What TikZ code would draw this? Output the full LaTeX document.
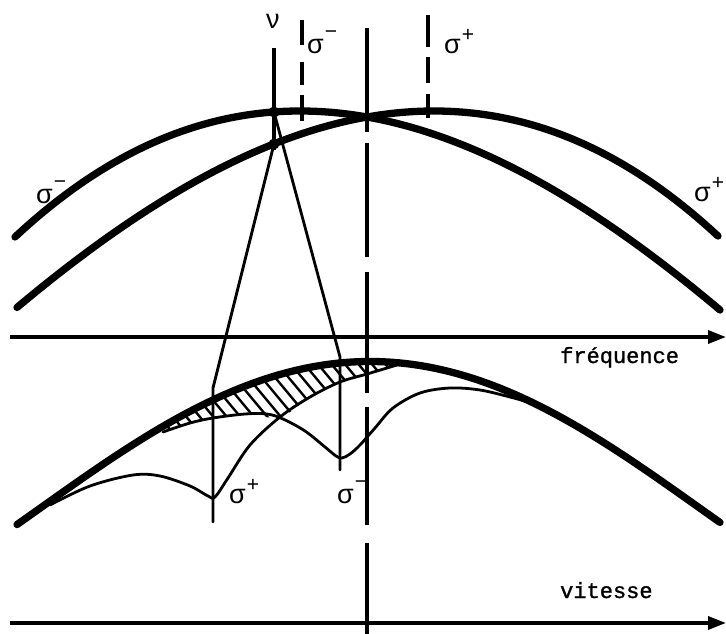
\documentclass[tikz,border=0pt]{standalone}
\usepackage{fontspec}
\setmainfont{Liberation Sans}
\newfontfamily\typew[FakeBold=1.2]{Liberation Mono}
\usetikzlibrary{arrows.meta}
\newcommand\sgp{σ\kern1pt\raisebox{12pt}{\fontsize{21}{21}\selectfont +}}
\newcommand\sgm{σ\kern1pt\raisebox{15pt}{\fontsize{21}{21}\selectfont −}}
\begin{document}
\begin{tikzpicture}[x=1pt,y=-1pt,
  declare function={
    topm(\t)=111+13.8*((\t-300)/100)*((\t-300)/100)-0.6*((\t-300)/100)*((\t-300)/100)*((\t-300)/100);
    topp(\t)=111+13.8*((434-\t)/100)*((434-\t)/100)-0.6*((434-\t)/100)*((434-\t)/100)*((434-\t)/100);
    env(\t)=361.5+16.2*((\t-370)/100)*((\t-370)/100)-0.25*((\t-370)/100)*((\t-370)/100)*((\t-370)/100)*((\t-370)/100);
  },
  thickcurve/.style={line width=7.3pt, line cap=round, line join=round},
  thincurve/.style={line width=2.8pt, line cap=round, line join=round},
  axisline/.style={line width=3.4pt, -{Triangle[length=18pt,width=13pt]}},
  dashseg/.style={line width=3.6pt},
  hatchline/.style={line width=2.4pt},
  lbl/.style={inner sep=0pt, anchor=base west, font=\fontsize{27}{27}\selectfont},
  word/.style={inner sep=0pt, anchor=base west, font=\typew\fontsize{22}{22}\selectfont}]
\useasboundingbox (0,0) rectangle (726,634);

% hatching between thick envelope and lower boundary
\begin{scope}
  \clip plot[domain=17:720,samples=80,smooth] (\x,{env(\x)}) -- (720,634) -- (17,634) -- cycle;
  \clip (150,300) -- (150,432) -- plot[smooth,tension=0.6] coordinates {(163,432) (190,423) (213,418) (245,414) (280,417) (310,397) (340,382) (367,374) (397,366)} -- (397,300) -- cycle;
  \foreach \i in {0,...,30} {\draw[hatchline] (60+13.5*\i,330) -- ++(100,120);}
\end{scope}

% axes
\coordinate (fa) at (10,337); \coordinate (fb) at (726,337);
\coordinate (va) at (10,623); \coordinate (vb) at (726,623);
\draw[axisline] (fa) -- (fb);
\draw[axisline] (va) -- (vb);

% central dashed vertical
\foreach \a/\b in {28/132,143/257,272/393,407/525,543/634} {\draw[dashseg] (367,\a) -- (367,\b);}
% sigma- and sigma+ dashed markers
\foreach \a/\b in {20/45,62/85,95/121} {\draw[dashseg] (302,\a) -- (302,\b);}
\foreach \a/\b in {15/47,57/83,94/118} {\draw[dashseg] (428,\a) -- (428,\b);}

% top curves
\draw[thickcurve] plot[domain=15:720,samples=100,smooth] (\x,{topm(\x)});
\draw[thickcurve] plot[domain=17:718,samples=100,smooth] (\x,{topp(\x)});

% nu line and dots
\coordinate (nutop) at (274,48); \coordinate (nubot) at (274,150);
\draw[line width=4.4pt] (nutop) -- (nubot);
\coordinate (dotm) at (274,112); \coordinate (dotp) at (274,144);
\fill (dotm) circle (5.5pt);
\fill (dotp) circle (5.5pt);

% projection lines
\coordinate (footp) at (213,388); \coordinate (endp) at (213,522);
\coordinate (footm) at (340,357); \coordinate (endm) at (340,470);
\draw[thincurve] (dotp) -- (footp) -- (endp);
\draw[thincurve] (dotm) -- (footm) -- (endm);

% bottom thick envelope
\draw[thickcurve] plot[domain=17:720,samples=100,smooth] (\x,{env(\x)});
% sigma+ dip curve
\draw[thincurve] plot[smooth,tension=0.55] coordinates {(50,505) (90,486) (133,475) (160,476) (190,486) (208,496) (215,497) (228,478) (250,445) (280,417) (310,397) (340,382) (367,374) (397,365)};
% sigma- dip curve
\draw[thincurve] plot[smooth,tension=0.55] coordinates {(163,432) (190,423) (213,418) (245,414) (267,414) (283,419) (305,431) (325,447) (336,456) (342,458) (350,454) (360,445) (375,428) (393,408) (420,393) (450,388) (480,390) (510,397) (528,402)};

% labels
\node[lbl] (lnu) at (266,29) {ν};
\node[lbl] (ltm) at (307,54) {\sgm};
\node[lbl] (ltp) at (444,54) {\sgp};
\node[lbl] (llm) at (36,203) {\sgm};
\node[lbl] (lrp) at (694,201) {\sgp};
\node[lbl] (lbp) at (229,503) {\sgp};
\node[lbl] (lbm) at (337,503) {\sgm};
\node[word] (lfreq) at (560,363) {fréquence};
\node[word] (lvit) at (560,598) {vitesse};
\end{tikzpicture}
\end{document}
